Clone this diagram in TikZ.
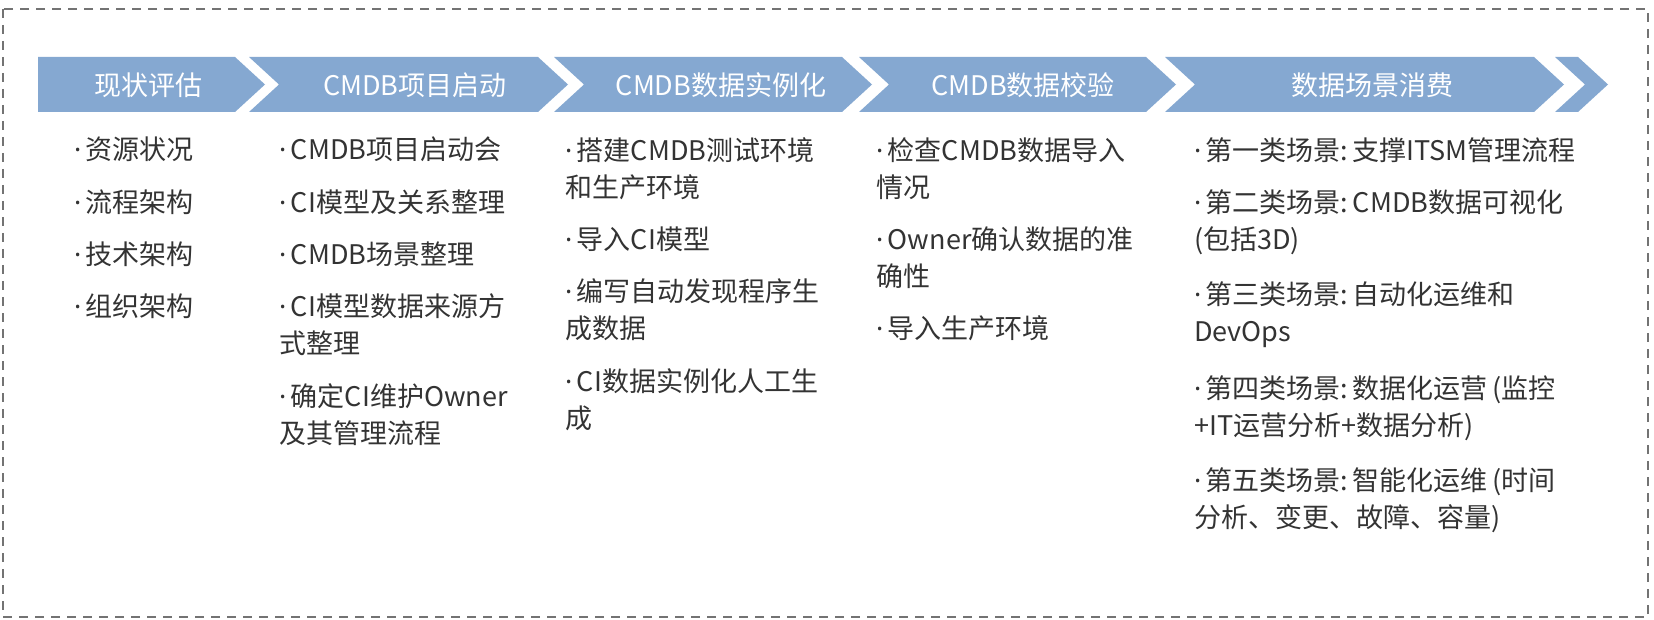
\documentclass[tikz,border=0pt]{standalone}
\usepackage{fontspec}
\setmainfont{Noto Sans CJK SC}
\newfontfamily\latinfont{Noto Sans}
\usetikzlibrary{positioning}

\newlength{\dotw}
\newcommand{\itm}[1]{\settowidth{\dotw}{{\latinfont·}\,}\hangindent=\dotw\hangafter=1 {\latinfont·}\,#1}

\begin{document}
\begin{tikzpicture}[x=1pt,y=-1pt]
    \tikzstyle{every node}=[font=\fontsize{27}{37}\selectfont]
    \tikzstyle{stage}=[fill=arrowblue,draw=none]
    \tikzstyle{stagetext}=[text=white,font=\fontsize{27}{30}\selectfont]
    \tikzstyle{item}=[inner sep=0pt,anchor=north west,align=left,text=black!80]
    \definecolor{arrowblue}{HTML}{85A8D1}

    \useasboundingbox (0,0) rectangle (1654,620);
    \draw [dash pattern=on 9pt off 7pt,black!55,line width=1.3pt] (3,9) rectangle (1648,617);

    %% Draw stage chevrons
    \fill [stage] (38,57) -- (235,57) -- (265,84.5) -- (235,112) -- (38,112) -- cycle;
    \foreach \l/\r in {249/538,554/842,859/1146,1165/1534,1555/1578}
        \fill [stage] (\l,57) -- (\r,57) -- (\r+30,84.5) -- (\r,112) -- (\l,112) -- (\l+30,84.5) -- cycle;

    \node [stagetext] (s1) at (148,85) {现状评估};
    \node [stagetext] (s2) at (415,85) {CMDB项目启动};
    \node [stagetext] (s3) at (721,85) {CMDB数据实例化};
    \node [stagetext] (s4) at (1023,85) {CMDB数据校验};
    \node [stagetext] (s5) at (1372,85) {数据场景消费};

    %% Column 1
    \node [item,text width=170pt] (a1) at (74,137) {\itm{资源状况}};
    \node [item,text width=170pt,below=27pt of a1.south west,anchor=north west] (a2) {\itm{流程架构}};
    \node [item,text width=170pt,below=27pt of a2.south west,anchor=north west] (a3) {\itm{技术架构}};
    \node [item,text width=170pt,below=27pt of a3.south west,anchor=north west] (a4) {\itm{组织架构}};

    %% Column 2
    \node [item,text width=260pt] (b1) at (279,137) {\itm{CMDB项目启动会}};
    \node [item,text width=260pt,below=27pt of b1.south west,anchor=north west] (b2) {\itm{CI模型及关系整理}};
    \node [item,text width=260pt,below=27pt of b2.south west,anchor=north west] (b3) {\itm{CMDB场景整理}};
    \node [item,text width=260pt,below=27pt of b3.south west,anchor=north west] (b4) {\itm{CI模型数据来源方\\式整理}};
    \node [item,text width=260pt,below=27pt of b4.south west,anchor=north west] (b5) {\itm{确定CI维护Owner\\及其管理流程}};

    %% Column 3
    \node [item,text width=280pt] (c1) at (565,137) {\itm{搭建CMDB测试环境\\和生产环境}};
    \node [item,text width=280pt,below=27pt of c1.south west,anchor=north west] (c2) {\itm{导入CI模型}};
    \node [item,text width=280pt,below=27pt of c2.south west,anchor=north west] (c3) {\itm{编写自动发现程序生\\成数据}};
    \node [item,text width=280pt,below=27pt of c3.south west,anchor=north west] (c4) {\itm{CI数据实例化人工生\\成}};

    %% Column 4
    \node [item,text width=290pt] (d1) at (876,137) {\itm{检查CMDB数据导入\\情况}};
    \node [item,text width=290pt,below=27pt of d1.south west,anchor=north west] (d2) {\itm{Owner确认数据的准\\确性}};
    \node [item,text width=290pt,below=27pt of d2.south west,anchor=north west] (d3) {\itm{导入生产环境}};

    %% Column 5
    \node [item,text width=440pt] (e1) at (1194,137) {\itm{第一类场景:\,支撑ITSM管理流程}};
    \node [item,text width=440pt,below=27pt of e1.south west,anchor=north west] (e2) {\itm{第二类场景:\,CMDB数据可视化\\(包括3D)}};
    \node [item,text width=440pt,below=27pt of e2.south west,anchor=north west] (e3) {\itm{第三类场景:\,自动化运维和\\DevOps}};
    \node [item,text width=440pt,below=27pt of e3.south west,anchor=north west] (e4) {\itm{第四类场景:\,数据化运营\,(监控\\+IT运营分析+数据分析)}};
    \node [item,text width=440pt,below=27pt of e4.south west,anchor=north west] (e5) {\itm{第五类场景:\,智能化运维\,(时间\\分析、变更、故障、容量)}};
\end{tikzpicture}
\end{document}
